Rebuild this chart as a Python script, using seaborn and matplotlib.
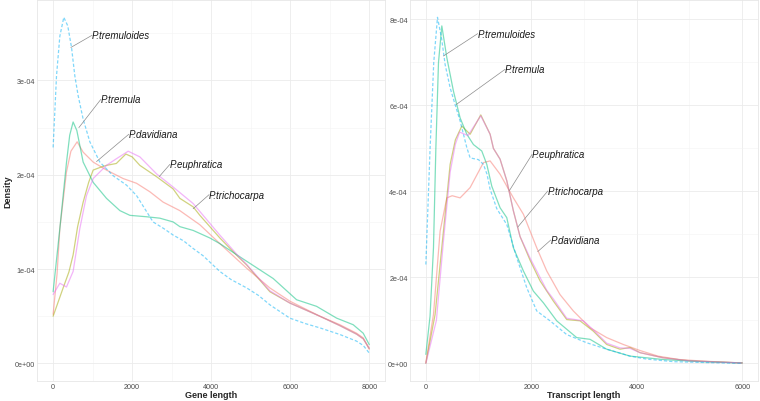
import numpy as np
import pandas as pd
import matplotlib
matplotlib.use("Agg")
import matplotlib.pyplot as plt
import seaborn as sns
from matplotlib.ticker import FuncFormatter, MultipleLocator

# ---------------- data (densities in units of 1e-4) ----------------
species = ["P.davidiana", "P.euphratica", "P.tremula", "P.tremuloides", "P.trichocarpa"]

# Gene length panel
gene_davidiana_x = [0, 100, 170, 338, 450, 608, 760, 1013, 1351, 1773, 2111, 2448, 2785, 3207, 3714, 4220, 4896, 5486, 5992, 6752, 7258, 7680, 7850, 8000]
gene_davidiana_y = [0.52, 0.95, 1.43, 2.03, 2.25, 2.35, 2.24, 2.135, 2.05, 1.96, 1.91, 1.82, 1.71, 1.62, 1.47, 1.27, 1.01, 0.80, 0.66, 0.50, 0.41, 0.32, 0.27, 0.15]

gene_euphratica_x = [0, 253, 400, 506, 620, 760, 900, 1013, 1200, 1351, 1600, 1840, 2000, 2195, 2617, 3038, 3208, 3544, 3714, 4220, 4684, 4896, 5486, 5992, 6752, 7258, 7680, 7850, 8000]
gene_euphratica_y = [0.50, 0.80, 0.97, 1.15, 1.45, 1.71, 1.92, 2.05, 2.08, 2.10, 2.12, 2.22, 2.19, 2.10, 1.98, 1.85, 1.75, 1.66, 1.57, 1.33, 1.13, 1.045, 0.76, 0.64, 0.50, 0.40, 0.31, 0.26, 0.16]

gene_tremula_x = [0, 170, 338, 420, 506, 600, 760, 1013, 1351, 1690, 1943, 2363, 2700, 3038, 3208, 3544, 3967, 4220, 4727, 5570, 6162, 6668, 7175, 7595, 7848, 8000]
gene_tremula_y = [0.76, 1.43, 2.13, 2.42, 2.56, 2.47, 2.135, 1.92, 1.75, 1.62, 1.57, 1.555, 1.54, 1.50, 1.45, 1.41, 1.33, 1.27, 1.13, 0.90, 0.675, 0.605, 0.48, 0.41, 0.32, 0.20]

gene_tremuloides_x = [0, 86, 170, 270, 370, 466, 549, 633, 760, 929, 1182, 1519, 1858, 2111, 2350, 2530, 2800, 3040, 3300, 3540, 3800, 4220, 4500, 4900, 5200, 5490, 5990, 6400, 6750, 7260, 7680, 7850, 8000]
gene_tremuloides_y = [2.29, 3.05, 3.47, 3.67, 3.58, 3.35, 3.05, 2.84, 2.59, 2.35, 2.135, 1.99, 1.89, 1.78, 1.62, 1.50, 1.43, 1.36, 1.30, 1.22, 1.14, 0.975, 0.89, 0.80, 0.72, 0.62, 0.48, 0.42, 0.377, 0.306, 0.236, 0.19, 0.11]

gene_trichocarpa_x = [0, 170, 338, 506, 676, 845, 1013, 1351, 1600, 1900, 2195, 2617, 3038, 3544, 4220, 4684, 4896, 5486, 5992, 6752, 7258, 7680, 7850, 8000]
gene_trichocarpa_y = [0.73, 0.85, 0.81, 0.975, 1.43, 1.78, 1.96, 2.10, 2.17, 2.25, 2.19, 2.01, 1.87, 1.695, 1.36, 1.14, 1.05, 0.77, 0.64, 0.50, 0.40, 0.31, 0.26, 0.16]

# Transcript length panel
tx_davidiana_x = [0, 145, 271, 398, 500, 650, 840, 1092, 1219, 1408, 1660, 1850, 2103, 2293, 2545, 2797, 3114, 3430, 3745, 4061, 4400, 4800, 5300, 6000]
tx_davidiana_y = [0.02, 1.14, 3.08, 3.85, 3.90, 3.85, 4.09, 4.67, 4.71, 4.40, 3.85, 3.47, 2.69, 2.15, 1.60, 1.22, 0.83, 0.60, 0.44, 0.30, 0.17, 0.09, 0.05, 0.01]

tx_euphratica_x = [0, 176, 334, 461, 560, 682, 840, 1042, 1219, 1282, 1408, 1535, 1660, 1787, 1977, 2166, 2418, 2672, 2924, 3176, 3430, 3682, 3871, 4061, 4500, 5000, 6000]
tx_euphratica_y = [0.0, 1.14, 3.08, 4.63, 5.20, 5.52, 5.33, 5.78, 5.33, 5.00, 4.75, 4.25, 3.55, 2.95, 2.40, 1.92, 1.45, 1.02, 0.99, 0.75, 0.44, 0.33, 0.37, 0.25, 0.13, 0.06, 0.01]

tx_tremula_x = [0, 80, 145, 190, 240, 303, 398, 524, 650, 777, 903, 1061, 1156, 1251, 1408, 1535, 1660, 1850, 2040, 2229, 2482, 2861, 3114, 3430, 3871, 4500, 5200, 6000]
tx_tremula_y = [0.21, 1.10, 2.69, 5.00, 7.00, 7.85, 7.11, 6.33, 5.71, 5.33, 5.09, 4.94, 4.63, 4.12, 3.62, 3.39, 2.69, 2.15, 1.68, 1.41, 0.99, 0.60, 0.56, 0.33, 0.17, 0.09, 0.04, 0.01]

tx_tremuloides_x = [0, 81, 150, 221, 300, 366, 461, 555, 650, 777, 840, 997, 1092, 1160, 1219, 1345, 1535, 1724, 1914, 2103, 2356, 2672, 3051, 3430, 3871, 4188, 4700, 5300, 6000]
tx_tremuloides_y = [2.30, 5.02, 7.00, 8.05, 7.55, 6.95, 6.41, 6.02, 5.64, 5.02, 4.78, 4.74, 4.63, 4.40, 4.05, 3.60, 3.23, 2.46, 1.76, 1.22, 0.99, 0.67, 0.48, 0.33, 0.17, 0.10, 0.04, 0.02, 0.0]

tx_trichocarpa_x = [0, 200, 334, 461, 560, 640, 800, 1042, 1219, 1282, 1408, 1535, 1660, 1787, 1977, 2166, 2293, 2418, 2672, 2987, 3176, 3430, 3682, 3871, 4061, 4500, 5000, 6000]
tx_trichocarpa_y = [0.0, 1.00, 2.85, 4.45, 5.10, 5.38, 5.30, 5.76, 5.33, 5.00, 4.75, 4.25, 3.55, 2.95, 2.45, 2.00, 1.70, 1.50, 1.05, 0.99, 0.78, 0.47, 0.36, 0.35, 0.25, 0.13, 0.06, 0.01]

# label text positions and leader-line targets (data units, density in 1e-4)
gene_labels = {
    "P.tremuloides": ((987, 3.48), (448, 3.35)),
    "P.tremula": ((1208, 2.80), (651, 2.50)),
    "P.davidiana": ((1916, 2.43), (1098, 2.14)),
    "P.euphratica": ((2954, 2.11), (2684, 1.98)),
    "P.trichocarpa": ((3949, 1.79), (3544, 1.64)),
}
tx_labels = {
    "P.tremuloides": ((983, 7.67), (334, 7.15)),
    "P.tremula": ((1503, 6.84), (575, 6.02)),
    "P.euphratica": ((2014, 4.86), (1585, 4.02)),
    "P.trichocarpa": ((2312, 4.01), (1743, 3.17)),
    "P.davidiana": ((2369, 2.87), (2122, 2.60)),
}

# ---------------- build tables ----------------
def build(xs, ys):
    frames = []
    for sp, x, y in zip(species, xs, ys):
        frames.append(pd.DataFrame({"x": x, "density": np.array(y) * 1e-4, "species": sp}))
    return pd.concat(frames, ignore_index=True)

gene_df = build(
    [gene_davidiana_x, gene_euphratica_x, gene_tremula_x, gene_tremuloides_x, gene_trichocarpa_x],
    [gene_davidiana_y, gene_euphratica_y, gene_tremula_y, gene_tremuloides_y, gene_trichocarpa_y])
tx_df = build(
    [tx_davidiana_x, tx_euphratica_x, tx_tremula_x, tx_tremuloides_x, tx_trichocarpa_x],
    [tx_davidiana_y, tx_euphratica_y, tx_tremula_y, tx_tremuloides_y, tx_trichocarpa_y])

# ---------------- style ----------------
sns.set_theme(style="whitegrid")
plt.rcParams["font.family"] = ["Liberation Sans", "DejaVu Sans"]

palette = dict(zip(species, ["#F8766D", "#A3A500", "#00BF7D", "#00B0F6", "#E76BF3"]))
dashes = {sp: "" for sp in species}
dashes["P.tremuloides"] = (2.6, 1.6)

fig = plt.figure(figsize=(7.6, 4.02), dpi=100)
ax1 = fig.add_axes([0.0491, 0.0505, 0.4575, 0.947])
ax2 = fig.add_axes([0.5395, 0.0505, 0.4579, 0.947])

fmt = FuncFormatter(lambda v, p: "%.0e" % v if abs(v) > 1e-12 else "0e+00")

def draw(ax, df, labels, xlabel, xmaj, ymaj, ylabel):
    sns.lineplot(data=df, x="x", y="density", hue="species", style="species",
                 palette=palette, dashes=dashes, estimator=None, sort=True,
                 linewidth=0.9, alpha=0.5, legend=False, ax=ax)
    xmax = df["x"].max(); xmin = df["x"].min()
    ymax = df["density"].max()
    ax.set_xlim(xmin - 0.05 * (xmax - xmin), xmax + 0.05 * (xmax - xmin))
    ax.set_ylim(-0.05 * ymax, 1.05 * ymax)
    ax.xaxis.set_major_locator(MultipleLocator(xmaj))
    ax.xaxis.set_minor_locator(MultipleLocator(xmaj / 2))
    ax.yaxis.set_major_locator(MultipleLocator(ymaj))
    ax.yaxis.set_minor_locator(MultipleLocator(ymaj / 2))
    ax.yaxis.set_major_formatter(fmt)
    ax.grid(which="major", color="#EBEBEB", linewidth=0.6)
    ax.grid(which="minor", color="#F3F3F3", linewidth=0.4)
    ax.set_facecolor("white")
    for s in ax.spines.values():
        s.set_visible(True)
        s.set_color("#E6E6E6")
        s.set_linewidth(0.6)
    ax.tick_params(axis="both", which="both", length=0, labelsize=5.2,
                   labelcolor="#4D4D4D", pad=1.5)
    ax.set_xlabel(xlabel, fontsize=6.5, fontweight="bold", labelpad=0.5)
    ax.set_ylabel(ylabel, fontsize=6.5, fontweight="bold", labelpad=2)
    for name, ((tx, ty), (px, py)) in labels.items():
        ax.plot([tx, px], [ty * 1e-4, py * 1e-4], color="#8C8C8C", linewidth=0.5)
        ax.text(tx, ty * 1e-4, name, fontsize=7.0, style="italic", color="#1A1A1A",
                ha="left", va="center")

draw(ax1, gene_df, gene_labels, "Gene length", 2000, 1e-4, "Density")
draw(ax2, tx_df, tx_labels, "Transcript length", 2000, 2e-4, "")

fig.savefig("out.png", dpi=100, facecolor="white")
